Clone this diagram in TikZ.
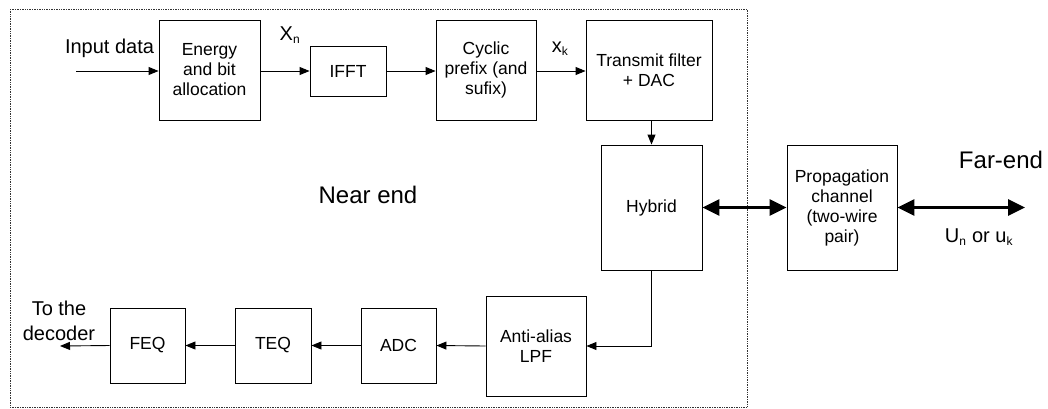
\documentclass[tikz,border=0pt]{standalone}
\usepackage{fontspec}
\setmainfont{Liberation Sans}
\usetikzlibrary{arrows.meta}
\begin{document}
\begin{tikzpicture}[x=1pt,y=-1pt,
  blk/.style={draw=black, line width=0.9pt, align=center, inner sep=0pt,
    font=\fontsize{17.5}{20}\selectfont},
  conn/.style={line width=0.9pt, -{Triangle[length=10pt,width=8pt]}},
  big/.style={line width=3pt, {Triangle[length=17pt,width=16pt]}-{Triangle[length=17pt,width=16pt]}},
  lbl/.style={inner sep=0pt, align=center, font=\fontsize{20}{25}\selectfont},
  biglbl/.style={inner sep=0pt, font=\fontsize{24}{28}\selectfont}
]
\useasboundingbox (0,0) rectangle (1048,408);
\fill[white] (0,0) rectangle (1048,408);
\draw[densely dotted, line width=0.7pt, black!80] (10,9) rectangle (747,407);

% boxes (centres and sizes in px)
\node[blk, minimum width=101pt, minimum height=100pt] (energy) at (209.5,70) {Energy\\and bit\\allocation};
\node[blk, minimum width=76pt, minimum height=50pt] (ifft) at (348,71) {IFFT};
\node[blk, minimum width=100pt, minimum height=100pt] (cyc) at (486,70) {Cyclic\\prefix (and\\sufix)};
\node[blk, minimum width=126pt, minimum height=100pt] (tx) at (649,70) {Transmit filter\\+ DAC};
\node[blk, minimum width=101pt, minimum height=125pt] (hyb) at (651.5,207.5) {Hybrid};
\node[blk, minimum width=110pt, minimum height=125pt] (prop) at (842,207.5) {Propagation\\channel\\(two-wire\\pair)};
\node[blk, minimum width=100pt, minimum height=100pt] (aa) at (536,346) {Anti-alias\\LPF};
\node[blk, minimum width=75pt, minimum height=75pt] (adc) at (398.5,345.5) {ADC};
\node[blk, minimum width=76pt, minimum height=75pt] (teq) at (273,345.5) {TEQ};
\node[blk, minimum width=75pt, minimum height=75pt] (feq) at (147.5,345.5) {FEQ};

% free ends
\coordinate (inp) at (76,71);
\coordinate (out) at (60,346);
\coordinate (far) at (1025,207.5);
\coordinate (turn) at (hyb.south |- aa.east);

% connectors
\draw[conn] (inp) -- (inp -| energy.west);
\draw[conn] (energy.east |- ifft.west) -- (ifft.west);
\draw[conn] (ifft.east) -- (ifft.east -| cyc.west);
\draw[conn] (cyc.east |- ifft.east) -- (tx.west |- ifft.east);
\draw[conn] (tx.south -| hyb.north) -- (hyb.north);
\draw[big] (hyb.east) -- (prop.west);
\draw[big] (prop.east) -- (far);
\draw[line width=0.9pt] (hyb.south) -- (turn);
\draw[conn] (turn) -- (aa.east);
\draw[conn] (aa.west) -- (adc.east);
\draw[conn] (adc.west) -- (teq.east);
\draw[conn] (teq.west) -- (feq.east);
\draw[conn] (feq.west) -- (out);

% labels
\node[lbl, anchor=base] (tin) at (109.5,53) {Input data};
\node[lbl, anchor=base] (txn) at (290,40) {X\textsubscript{\fontsize{12}{12}\selectfont n}};
\node[lbl, anchor=base] (txk) at (560,52) {x\textsubscript{\fontsize{12}{12}\selectfont k}};
\node[lbl, anchor=base] (tdec) at (59,340) {To the\\decoder};
\node[biglbl, anchor=base] (tnear) at (368,203) {Near end};
\node[biglbl, anchor=base] (tfar) at (1001,168) {Far-end};
\node[lbl, anchor=base] (tu) at (979,242) {U\textsubscript{\fontsize{12}{12}\selectfont n} or u\textsubscript{\fontsize{12}{12}\selectfont k}};
\end{tikzpicture}
\end{document}
